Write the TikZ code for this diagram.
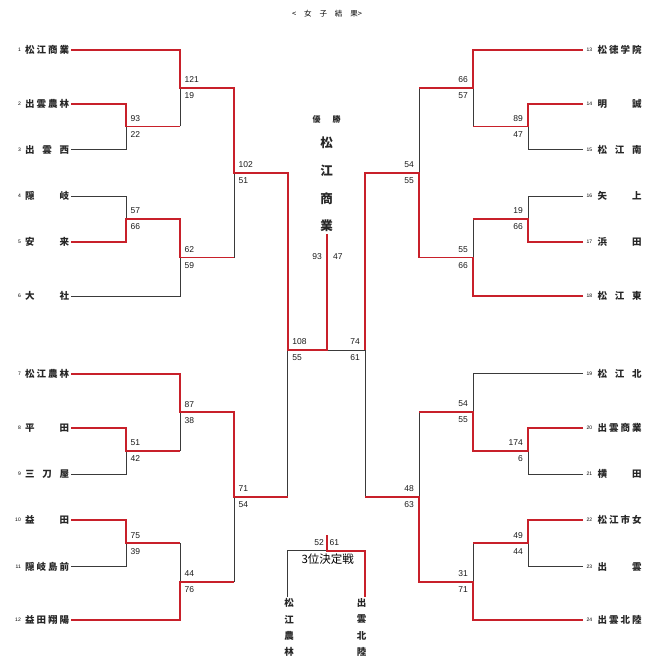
\documentclass[tikz,border=0pt]{standalone}
\usepackage{fontspec}
\setmainfont{Liberation Sans}
\newfontfamily\jp{Noto Sans CJK JP}
\definecolor{wred}{HTML}{C8202A}
\definecolor{lgray}{HTML}{3A3A3A}
\newcommand\scoreL[3]{%
  \node[sc,anchor=west] (#1t) at ([xshift=4.5pt,yshift=8pt]#1) {#2};
  \node[sc,anchor=west] (#1b) at ([xshift=4.5pt,yshift=-8pt]#1) {#3};}
\newcommand\scoreR[3]{%
  \node[sc,anchor=east] (#1t) at ([xshift=-5pt,yshift=8pt]#1) {#2};
  \node[sc,anchor=east] (#1b) at ([xshift=-5pt,yshift=-8pt]#1) {#3};}
\begin{document}
\begin{tikzpicture}[x=1pt,y=-1pt,
  base/.style={draw=lgray, line width=0.8pt},
  win/.style={draw=wred, line width=1.9pt, line join=miter},
  sc/.style={font=\fontsize{8.5}{10}\selectfont, inner sep=0pt, text=black!90},
  seedno/.style={font=\fontsize{5}{6}\selectfont, inner sep=0pt},
  tname/.style={font=\jp\bfseries\fontsize{9.5}{11}\selectfont, inner sep=0pt, text=black!85},
  vname/.style={font=\jp\bfseries\fontsize{9.5}{16.2}\selectfont, inner sep=0pt, align=center, text=black!85}]
\useasboundingbox (0,0) rectangle (650,671);

% title
\node[font=\jp\fontsize{7.5}{9}\selectfont, inner sep=0pt] (title) at (327,14) {\hbox to 70pt{<\hfill 女\hfill 子\hfill 結\hfill 果>}};

% team line start points
\coordinate (a1) at (71,49.8);
\coordinate (a2) at (71,103.8);
\coordinate (a3) at (71,149.5);
\coordinate (a4) at (71,196);
\coordinate (a5) at (71,242);
\coordinate (a6) at (71,296);
\coordinate (a7) at (71,373.8);
\coordinate (a8) at (71,427.8);
\coordinate (a9) at (71,474);
\coordinate (a10) at (71,520);
\coordinate (a11) at (71,566.5);
\coordinate (a12) at (71,620);
\coordinate (a13) at (583,49.8);
\coordinate (a14) at (583,103.8);
\coordinate (a15) at (583,149.5);
\coordinate (a16) at (583,196);
\coordinate (a17) at (583,242);
\coordinate (a18) at (583,296);
\coordinate (a19) at (583,373.5);
\coordinate (a20) at (583,427.8);
\coordinate (a21) at (583,474);
\coordinate (a22) at (583,520);
\coordinate (a23) at (583,566.5);
\coordinate (a24) at (583,620);

% left team names
\foreach \i/\nm in {
  1/{松\hfill 江\hfill 商\hfill 業},
  2/{出\hfill 雲\hfill 農\hfill 林},
  3/{出\hfill 雲\hfill 西},
  4/{隠\hfill 岐},
  5/{安\hfill 来},
  6/{大\hfill 社},
  7/{松\hfill 江\hfill 農\hfill 林},
  8/{平\hfill 田},
  9/{三\hfill 刀\hfill 屋},
  10/{益\hfill 田},
  11/{隠\hfill 岐\hfill 島\hfill 前},
  12/{益\hfill 田\hfill 翔\hfill 陽}}{
  \node[tname, anchor=west] (n\i) at ([xshift=-46pt]a\i) {\hbox to 44pt{\nm}};
  \node[seedno, anchor=east] (s\i) at ([xshift=-50pt]a\i) {\i};
}
% right team names
\foreach \i/\nm in {
  13/{松\hfill 徳\hfill 学\hfill 院},
  14/{明\hfill 誠},
  15/{松\hfill 江\hfill 南},
  16/{矢\hfill 上},
  17/{浜\hfill 田},
  18/{松\hfill 江\hfill 東},
  19/{松\hfill 江\hfill 北},
  20/{出\hfill 雲\hfill 商\hfill 業},
  21/{横\hfill 田},
  22/{松\hfill 江\hfill 市\hfill 女},
  23/{出\hfill 雲},
  24/{出\hfill 雲\hfill 北\hfill 陸}}{
  \node[tname, anchor=west] (n\i) at ([xshift=14.5pt]a\i) {\hbox to 44pt{\nm}};
  \node[seedno, anchor=west] (s\i) at ([xshift=3.5pt]a\i) {\i};
}

% junctions left
\coordinate (jA) at (126,126.5);
\coordinate (jB) at (126,219);
\coordinate (jC) at (180,88);
\coordinate (jD) at (180,257.5);
\coordinate (jE) at (234,172.75);
\coordinate (jF) at (126,450.75);
\coordinate (jG) at (126,543.25);
\coordinate (jH) at (180,412.1);
\coordinate (jI) at (180,581.6);
\coordinate (jJ) at (234,496.9);
\coordinate (jSL) at (287.7,350);
\coordinate (jFin) at (326.7,350);
% junctions right
\coordinate (jK) at (528,126.5);
\coordinate (jL) at (528,219);
\coordinate (jM) at (473,88);
\coordinate (jN) at (473,257.5);
\coordinate (jO) at (419,172.75);
\coordinate (jP) at (528,450.75);
\coordinate (jQ) at (528,543.25);
\coordinate (jR) at (473,412.1);
\coordinate (jS) at (473,581.6);
\coordinate (jT) at (419,496.9);
\coordinate (jSR) at (365,350);
% third place
\coordinate (j3L) at (287.7,550.7);
\coordinate (j3C) at (327,550.7);
\coordinate (j3R) at (365,550.7);
\coordinate (j3T) at (327,535);
\coordinate (j3Lb) at (287.7,597);
\coordinate (j3Rb) at (365,597);

% champion
\node[font=\jp\bfseries\fontsize{8}{9}\selectfont, inner sep=0pt, text=black!85] (yu) at (326.7,119) {\hbox to 28pt{優\hfill 勝}};
\foreach \c/\y [count=\k] in {松/143,江/171,商/199,業/226}
  \node[font=\jp\bfseries\fontsize{12.5}{14}\selectfont, inner sep=0pt, text=black!85] (ch\k) at (326.7,\y) {\c};
\coordinate (champ) at (326.7,234);

% losing segments (black)
\draw[base] (a3) -| (jA);
\draw[base] (a4) -| (jB);
\draw[base] (jA -| jC) -- (jC);
\draw[base] (a6) -| (jD);
\draw[base] (jD -| jE) -- (jE);
\draw[base] (a9) -| (jF);
\draw[base] (a11) -| (jG);
\draw[base] (jF -| jH) -- (jH);
\draw[base] (jG -| jI) -- (jI);
\draw[base] (jI -| jJ) -- (jJ);
\draw[base] (jJ -| jSL) -- (jSL);
\draw[base] (a15) -| (jK);
\draw[base] (a16) -| (jL);
\draw[base] (jK -| jM) -- (jM);
\draw[base] (jL -| jN) -- (jN);
\draw[base] (jM -| jO) -- (jO);
\draw[base] (a21) -| (jP);
\draw[base] (a23) -| (jQ);
\draw[base] (a19) -| (jR);
\draw[base] (jQ -| jS) -- (jS);
\draw[base] (jR -| jT) -- (jT);
\draw[base] (jT -| jSR) -- (jSR) -- (jFin);
\draw[base] (j3Lb) -- (j3L) -- (j3C);

% winner paths (red)
\draw[win] (a1) -| (jC) -| (jE) -| (jSL) -- (jFin) -- (champ);
\draw[win] (a2) -| (jA) -- (jA -| jC);
\draw[win] (a5) -| (jB) -| (jD) -- (jD -| jE);
\draw[win] (a7) -| (jH) -| (jJ) -- (jJ -| jSL);
\draw[win] (a8) -| (jF) -- (jF -| jH);
\draw[win] (a10) -| (jG) -- (jG -| jI);
\draw[win] (a12) -| (jI) -- (jI -| jJ);
\draw[win] (a13) -| (jM) -- (jM -| jO);
\draw[win] (a14) -| (jK) -- (jK -| jM);
\draw[win] (a17) -| (jL) -- (jL -| jN);
\draw[win] (a18) -| (jN) -| (jO) -| (jSR);
\draw[win] (a20) -| (jP) -| (jR) -- (jR -| jT);
\draw[win] (a22) -| (jQ) -- (jQ -| jS);
\draw[win] (a24) -| (jS) -| (jT) -- (jT -| jSR);
\draw[win] (j3T) -- (j3C) -- (j3R) -- (j3Rb);

% scores
\scoreL{jA}{93}{22}
\scoreL{jB}{57}{66}
\scoreL{jC}{121}{19}
\scoreL{jD}{62}{59}
\scoreL{jE}{102}{51}
\scoreL{jF}{51}{42}
\scoreL{jG}{75}{39}
\scoreL{jH}{87}{38}
\scoreL{jI}{44}{76}
\scoreL{jJ}{71}{54}
\scoreL{jSL}{108}{55}
\scoreR{jK}{89}{47}
\scoreR{jL}{19}{66}
\scoreR{jM}{66}{57}
\scoreR{jN}{55}{66}
\scoreR{jO}{54}{55}
\scoreR{jP}{174}{6}
\scoreR{jQ}{49}{44}
\scoreR{jR}{54}{55}
\scoreR{jS}{31}{71}
\scoreR{jT}{48}{63}
\scoreR{jSR}{74}{61}
\node[sc, anchor=east] (f1) at (322,257) {93};
\node[sc, anchor=west] (f2) at (333,257) {47};

% third place
\node[sc, anchor=east] (t1) at (324,543) {52};
\node[sc, anchor=west] (t2) at (329.5,543) {61};
\node[font=\jp\fontsize{11.5}{13}\selectfont, inner sep=0pt] (third) at (327.7,559.5) {3位決定戦};
\node[vname] (b1) at (289,627.5) {松\\江\\農\\林};
\node[vname] (b2) at (361.7,627.5) {出\\雲\\北\\陸};
\end{tikzpicture}
\end{document}
